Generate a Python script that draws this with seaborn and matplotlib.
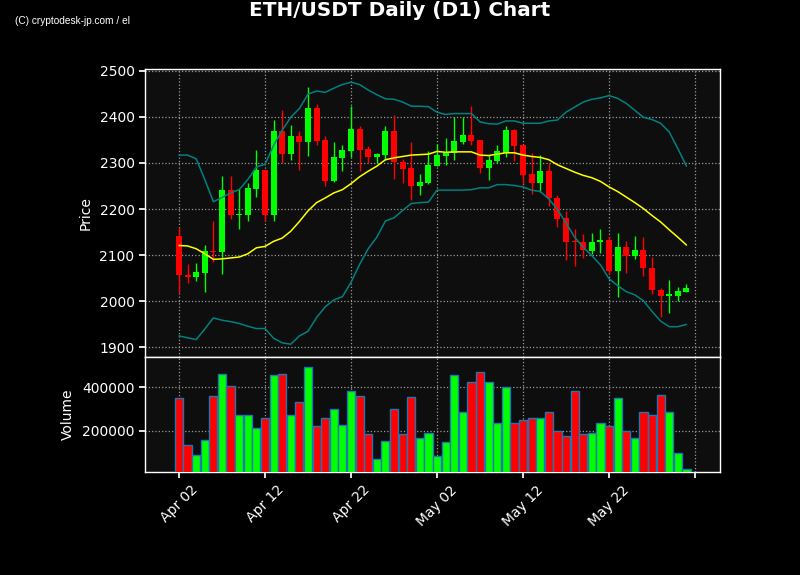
import numpy as np
import pandas as pd
import matplotlib
matplotlib.use("Agg")
import matplotlib.pyplot as plt
import seaborn as sns

# ---------------- data ----------------
tick_labels = ["Apr 02", "Apr 12", "Apr 22", "May 02", "May 12", "May 22", ""]

opens = [2141, 2058, 2052, 2062, 2110, 2107, 2241, 2188, 2188, 2243,
         2284, 2188, 2369, 2320, 2359, 2346, 2418, 2349, 2261, 2311,
         2326, 2373, 2330, 2313, 2317, 2369, 2303, 2288, 2250, 2256,
         2293, 2314, 2322, 2346, 2360, 2349, 2289, 2304, 2322, 2371,
         2338, 2275, 2257, 2282, 2223, 2180, 2130, 2129, 2110, 2128,
         2134, 2065, 2117, 2098, 2112, 2073, 2025, 2011, 2012, 2021]
highs = [2161, 2081, 2083, 2123, 2175, 2272, 2271, 2244, 2257, 2329,
         2285, 2394, 2414, 2383, 2369, 2464, 2428, 2358, 2346, 2338,
         2423, 2381, 2336, 2322, 2380, 2404, 2309, 2346, 2277, 2325,
         2342, 2355, 2399, 2399, 2423, 2349, 2317, 2338, 2381, 2374,
         2338, 2322, 2318, 2299, 2230, 2196, 2157, 2146, 2148, 2157,
         2141, 2149, 2131, 2142, 2140, 2096, 2029, 2046, 2031, 2038]
lows = [2017, 2040, 2043, 2021, 2085, 2059, 2178, 2157, 2174, 2226,
        2174, 2174, 2300, 2307, 2284, 2315, 2338, 2251, 2259, 2283,
        2312, 2283, 2299, 2300, 2307, 2266, 2257, 2220, 2231, 2254,
        2293, 2296, 2307, 2342, 2338, 2278, 2264, 2299, 2312, 2304,
        2254, 2233, 2237, 2206, 2162, 2090, 2077, 2094, 2103, 2105,
        2059, 2009, 2062, 2091, 2054, 2016, 1966, 1975, 2001, 2020]
closes = [2056, 2052, 2064, 2110, 2106, 2241, 2188, 2190, 2245, 2284,
          2188, 2369, 2320, 2359, 2346, 2418, 2347, 2261, 2312, 2328,
          2373, 2328, 2313, 2319, 2369, 2302, 2286, 2250, 2258, 2295,
          2317, 2322, 2347, 2360, 2347, 2289, 2306, 2325, 2371, 2337,
          2273, 2257, 2282, 2225, 2178, 2128, 2128, 2112, 2129, 2134,
          2065, 2117, 2098, 2112, 2072, 2024, 2011, 2015, 2023, 2028]
volumes = [349000, 135000, 88000, 158000, 358000, 460000, 405000, 274000, 274000, 214000,
           260000, 456000, 460000, 270000, 330000, 493000, 223000, 256000, 302000, 228000,
           381000, 358000, 184000, 68000, 153000, 302000, 184000, 353000, 167000, 191000,
           84000, 149000, 456000, 287000, 423000, 470000, 423000, 233000, 400000, 237000,
           251000, 260000, 256000, 288000, 200000, 177000, 381000, 186000, 191000, 233000,
           223000, 349000, 200000, 167000, 284000, 270000, 363000, 284000, 98000, 23000]
sma20 = [2121, 2120, 2114, 2103, 2091, 2092, 2094, 2096, 2103, 2116,
         2119, 2130, 2137, 2152, 2173, 2196, 2214, 2224, 2235, 2242,
         2255, 2270, 2282, 2293, 2307, 2311, 2314, 2317, 2318, 2319,
         2325, 2323, 2324, 2324, 2324, 2317, 2316, 2319, 2322, 2322,
         2317, 2314, 2312, 2307, 2296, 2288, 2280, 2273, 2268, 2260,
         2248, 2238, 2226, 2214, 2201, 2186, 2172, 2155, 2139, 2122]
bb_upper = [2317, 2317, 2309, 2264, 2216, 2225, 2235, 2242, 2264, 2291,
            2297, 2338, 2371, 2399, 2418, 2449, 2456, 2453, 2462, 2470,
            2475, 2470, 2458, 2448, 2439, 2438, 2432, 2423, 2423, 2422,
            2410, 2405, 2407, 2407, 2407, 2389, 2385, 2384, 2391, 2391,
            2386, 2386, 2386, 2391, 2393, 2410, 2421, 2432, 2438, 2441,
            2446, 2440, 2429, 2414, 2399, 2394, 2386, 2367, 2331, 2293]
bb_lower = [1925, 1921, 1917, 1940, 1964, 1959, 1956, 1952, 1946, 1941,
            1941, 1920, 1910, 1907, 1925, 1935, 1965, 1988, 2003, 2010,
            2041, 2080, 2114, 2139, 2174, 2181, 2197, 2212, 2214, 2215,
            2241, 2241, 2241, 2241, 2242, 2246, 2246, 2253, 2253, 2251,
            2248, 2241, 2238, 2222, 2199, 2170, 2139, 2117, 2099, 2079,
            2049, 2034, 2021, 2014, 2001, 1978, 1957, 1945, 1945, 1950]

# ---------------- style ----------------
sns.set_theme(style="dark")
plt.rcParams.update({
    "figure.facecolor": "black",
    "axes.facecolor": "#0e0e0e",
    "axes.edgecolor": "white",
    "axes.labelcolor": "white",
    "xtick.color": "white",
    "ytick.color": "white",
    "text.color": "white",
    "font.size": 10,
    "axes.linewidth": 1.0,
    "xtick.major.size": 4,
    "ytick.major.size": 4,
    "xtick.bottom": True,
    "ytick.left": True,
})
plt.rcParams["font.family"] = ["DejaVu Sans"]

df = pd.DataFrame({
    "i": np.arange(len(opens)),
    "open": opens, "high": highs, "low": lows, "close": closes,
    "volume": volumes, "sma": sma20, "upper": bb_upper, "lower": bb_lower,
})
up = df["close"] >= df["open"]
colors = np.where(up, "#00ff00", "#ff0000")

fig = plt.figure(figsize=(8, 5.75), dpi=100)
ax = fig.add_axes([0.18125, 0.3797, 0.71875, 0.4998])
axv = fig.add_axes([0.18125, 0.1786, 0.71875, 0.2011], sharex=ax)

# candles
ax.vlines(df["i"], df["low"], df["high"], colors=colors, linewidth=1.0, zorder=3)
body_bottom = np.minimum(df["open"], df["close"])
body_height = np.abs(df["close"] - df["open"])
body_height = np.maximum(body_height, 0.8)
ax.bar(df["i"], body_height, bottom=body_bottom, width=0.7, color=colors,
       linewidth=0, zorder=4)

# indicator lines
sns.lineplot(data=df, x="i", y="upper", ax=ax, color="#008080", linewidth=1.1, zorder=5)
sns.lineplot(data=df, x="i", y="lower", ax=ax, color="#008080", linewidth=1.1, zorder=5)
sns.lineplot(data=df, x="i", y="sma", ax=ax, color="#ffff00", linewidth=1.1, zorder=6)

# volume
axv.bar(df["i"], df["volume"], width=0.95, color=colors, edgecolor="#1f77b4",
        linewidth=1.0, zorder=3)

for a in (ax, axv):
    a.grid(True, color="#9a9a9a", linestyle=":", linewidth=0.9, zorder=0)
    a.set_axisbelow(True)
    for s in a.spines.values():
        s.set_color("white")
        s.set_visible(True)
    a.tick_params(colors="white", labelsize=10, direction="out", length=4)

ax.set_xlim(-3.95, 62.9)
ax.set_ylim(1880, 2503)
ax.set_yticks([1900, 2000, 2100, 2200, 2300, 2400, 2500])
axv.set_ylim(7850, 541000)
axv.set_yticks([200000, 400000])
axv.set_yticklabels(["200000", "400000"])
ax.set_xlabel("")
ax.set_ylabel("Price", fontsize=10)
axv.set_ylabel("Volume", fontsize=10)
axv.set_xlabel("")
ax.tick_params(axis="x", labelbottom=False)
axv.set_xticks(np.arange(0, 61, 10))
axv.set_xticklabels(tick_labels, rotation=45, ha="center")
ax.yaxis.set_label_coords(-0.091, 0.5)
axv.yaxis.set_label_coords(-0.122, 0.5)

fig.text(0.5, 0.981, "ETH/USDT Daily (D1) Chart", ha="center", va="center",
         fontsize=14.4, fontweight="bold", color="white")
fig.text(0.019, 0.963, "(C) cryptodesk-jp.com / el", ha="left", va="center",
         fontsize=7.3, color="white", family=["Liberation Sans", "DejaVu Sans"])

fig.savefig("out.png", dpi=100, facecolor="black")
